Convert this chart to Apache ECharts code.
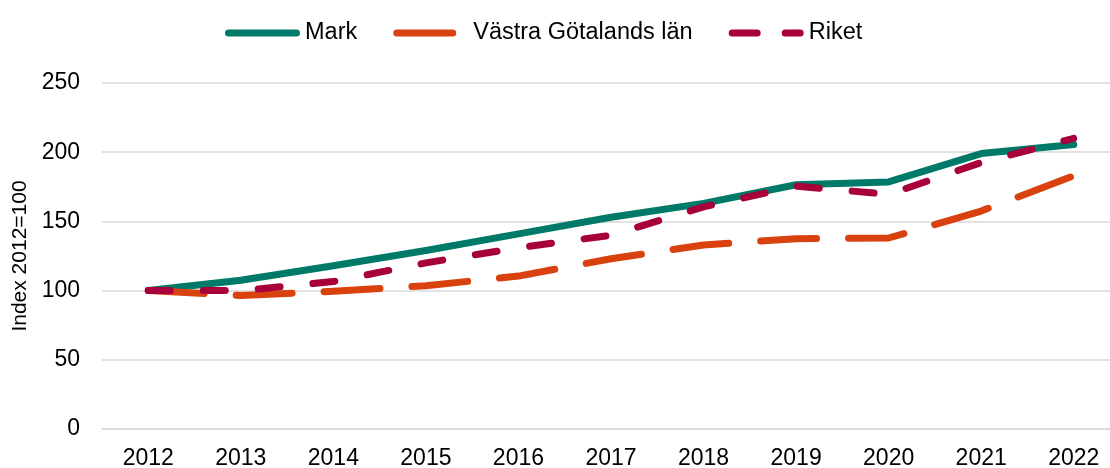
<!DOCTYPE html>
<html lang="sv">
<head>
  <meta charset="UTF-8">
  <title>Index 2012=100</title>
  <style>
    html, body { margin: 0; padding: 0; background: #fff; }
    #main { width: 1110px; height: 468px; }
  </style>
</head>
<body>
  <div id="main"></div>
  <script src="https://cdn.jsdelivr.net/npm/echarts@6/dist/echarts.min.js"></script>
  <script>
    var years = ['2012', '2013', '2014', '2015', '2016', '2017', '2018', '2019', '2020', '2021', '2022'];
    var mark = [100, 107.5, 118, 129, 141, 153, 163, 176.5, 178.5, 199, 205.5];
    var vastraGotaland = [100, 96.5, 99.5, 103.5, 110.5, 123, 133, 137.5, 138, 157.5, 183];
    var riket = [100, 100, 106.5, 120, 131, 140, 160.5, 175.5, 169.5, 192.5, 210];

    var font = '"Liberation Sans", Arial, sans-serif';
    var myChart = echarts.init(document.getElementById('main'));

    // legend icons drawn like Excel's: solid bar, one long dash, two short dashes
    var iconSolid = 'path://M3.5,0H71.5A3.5,3.5 0 0 1 71.5,7H3.5A3.5,3.5 0 0 1 3.5,0Z';
    var iconLongDash = 'path://M3.5,0H59.5A3.5,3.5 0 0 1 59.5,7H3.5A3.5,3.5 0 0 1 3.5,0ZM75,0L75,0';
    var iconShortDash = 'path://M3.5,0H28.5A3.5,3.5 0 0 1 28.5,7H3.5A3.5,3.5 0 0 1 3.5,0Z' +
      'M56.5,0H71.5A3.5,3.5 0 0 1 71.5,7H56.5A3.5,3.5 0 0 1 56.5,0Z';

    var option = {
      backgroundColor: '#fff',
      animation: false,
      textStyle: { fontFamily: font },
      legend: {
        left: 220,
        top: 16,
        itemWidth: 75,
        itemHeight: 7,
        itemGap: 36,
        textStyle: { fontFamily: font, fontSize: 23.5, color: '#000' },
        data: [
          { name: 'Mark', icon: iconSolid },
          { name: 'Västra Götalands län', icon: iconLongDash },
          { name: 'Riket', icon: iconShortDash }
        ]
      },
      grid: {
        left: 102,
        top: 83,
        width: 1018,
        height: 346,
        outerBoundsMode: 'none'
      },
      xAxis: {
        type: 'category',
        data: years,
        boundaryGap: true,
        axisLine: { lineStyle: { color: '#d9d9d9', width: 1.5 } },
        axisTick: { show: false },
        axisLabel: { fontFamily: font, fontSize: 23, color: '#000', margin: 18 }
      },
      yAxis: {
        type: 'value',
        min: 0,
        max: 250,
        interval: 50,
        name: 'Index 2012=100',
        nameLocation: 'middle',
        nameGap: 70,
        nameTextStyle: { fontFamily: font, fontSize: 21, color: '#000' },
        axisLine: { show: false },
        axisTick: { show: false },
        axisLabel: { fontFamily: font, fontSize: 23, color: '#000', margin: 22 },
        splitLine: { lineStyle: { color: '#d9d9d9', width: 1.5 } }
      },
      series: [
        {
          name: 'Mark',
          type: 'line',
          data: mark,
          symbol: 'none',
          color: '#007a68',
          lineStyle: { width: 7, color: '#007a68', cap: 'round', join: 'round' }
        },
        {
          name: 'Västra Götalands län',
          type: 'line',
          data: vastraGotaland,
          symbol: 'none',
          color: '#d9420f',
          lineStyle: { width: 7, color: '#d9420f', type: [56, 32], cap: 'round', join: 'round' }
        },
        {
          name: 'Riket',
          type: 'line',
          data: riket,
          symbol: 'none',
          color: '#a8003b',
          lineStyle: { width: 7, color: '#a8003b', type: [22, 33], cap: 'round', join: 'round' }
        }
      ]
    };

    myChart.setOption(option);
  </script>
</body>
</html>
